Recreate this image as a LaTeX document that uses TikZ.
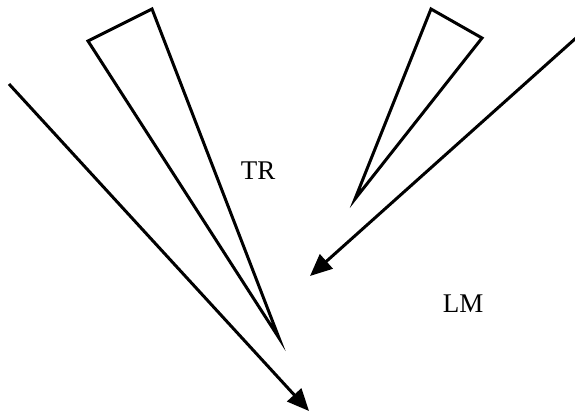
\documentclass[tikz,border=0pt]{standalone}
\usepackage{fontspec}
\setmainfont{Liberation Serif}
\usetikzlibrary{arrows.meta}
\tikzset{
  wedge/.style={draw=black, line width=3pt, line join=miter},
  ray/.style={-{Triangle[length=22pt, width=19pt]}, line width=3pt, black},
  zonelabel/.style={font=\fontsize{27}{30}\selectfont, inner sep=0pt},
}
\begin{document}
\begin{tikzpicture}[x=1pt, y=-1pt]
  \useasboundingbox (0,0) rectangle (575,415);
  % wedges
  \draw[wedge] (88,41) coordinate (lw1) -- (152,9) coordinate (lw2) -- (279,338) coordinate (lw3) -- cycle;
  \draw[wedge] (431,9) coordinate (rw1) -- (482,38) coordinate (rw2) -- (355,199) coordinate (rw3) -- cycle;
  % rays
  \coordinate (r1a) at (9,84);
  \coordinate (r1b) at (309,411);
  \coordinate (r2a) at (576,38);
  \coordinate (r2b) at (310,276);
  \draw[ray] (r1a) -- (r1b);
  \draw[ray] (r2a) -- (r2b);
  % labels
  \node[zonelabel] (tr) at (258,171) {TR};
  \node[zonelabel] (lm) at (463,304) {LM};
\end{tikzpicture}
\end{document}
